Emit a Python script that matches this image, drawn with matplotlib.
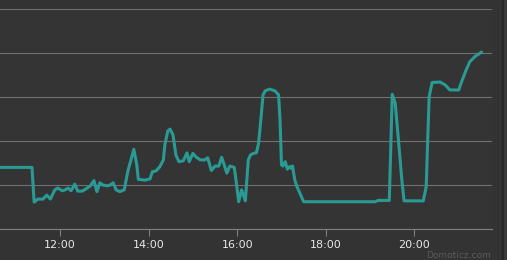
import numpy as np
import matplotlib
matplotlib.use("Agg")
import matplotlib.pyplot as plt
from matplotlib.patches import Rectangle

# readings (time of day, value)
times = ["10:35", "11:22", "11:25", "11:30", "11:37", "11:42", "11:47", "11:53",
         "11:57", "12:03", "12:07", "12:11", "12:15", "12:20", "12:24", "12:30",
         "12:35", "12:41", "12:46", "12:50", "12:54", "12:58", "13:04", "13:08",
         "13:12", "13:16", "13:21", "13:27", "13:32", "13:40", "13:44", "13:46",
         "13:55", "14:02", "14:05", "14:10", "14:15", "14:20", "14:22", "14:26",
         "14:29", "14:33", "14:37", "14:41", "14:47", "14:52", "14:55", "15:00",
         "15:04", "15:10", "15:16", "15:20", "15:25", "15:30", "15:35", "15:39",
         "15:46", "15:50", "15:56", "15:58", "16:02", "16:06", "16:11", "16:15",
         "16:18", "16:22", "16:26", "16:29", "16:32", "16:35", "16:38", "16:44",
         "16:51", "16:56", "16:58", "17:00", "17:02", "17:05", "17:08", "17:11",
         "17:13", "17:15", "17:18", "17:21", "17:25", "17:30", "19:07", "19:11",
         "19:26", "19:30", "19:34", "19:38", "19:43", "19:46", "20:12", "20:16",
         "20:18", "20:20", "20:24", "20:35", "20:42", "20:48", "21:00", "21:04",
         "21:10", "21:15", "21:22", "21:31"]
values = [1.40, 1.40, 0.61, 0.68, 0.68, 0.77, 0.68, 0.89,
          0.93, 0.87, 0.89, 0.93, 0.87, 1.02, 0.86, 0.86,
          0.91, 0.98, 1.10, 0.85, 1.05, 1.00, 0.98, 1.00,
          1.05, 0.89, 0.85, 0.89, 1.32, 1.81, 1.46, 1.13,
          1.11, 1.14, 1.30, 1.32, 1.41, 1.57, 1.91, 2.23,
          2.27, 2.14, 1.68, 1.53, 1.55, 1.73, 1.53, 1.72,
          1.64, 1.57, 1.57, 1.62, 1.33, 1.43, 1.43, 1.63,
          1.27, 1.43, 1.40, 1.16, 0.62, 0.89, 0.64, 1.57,
          1.68, 1.72, 1.73, 1.95, 2.48, 3.05, 3.14, 3.18,
          3.14, 3.05, 2.48, 1.46, 1.43, 1.53, 1.36, 1.42,
          1.38, 1.43, 1.11, 0.96, 0.81, 0.62, 0.62, 0.65,
          0.65, 3.06, 2.86, 2.10, 1.11, 0.64, 0.64, 0.96,
          2.02, 3.01, 3.33, 3.34, 3.27, 3.16, 3.16, 3.35,
          3.61, 3.80, 3.92, 4.02]
tick_hours = [12, 14, 16, 18, 20]
tick_labels = ["12:00", "14:00", "16:00", "18:00", "20:00"]


def to_hours(s):
    h, m = s.split(":")
    return int(h) + int(m) / 60.0


hours = np.array([to_hours(t) for t in times])

W, H = 507, 260
fig = plt.figure(figsize=(W / 100, H / 100), dpi=100)
fig.patch.set_facecolor("#333333")

# right side panel edge
fig.patches.append(Rectangle((502 / W, 0), 2 / W, 1, transform=fig.transFigure,
                             color="#262626", zorder=0))
fig.patches.append(Rectangle((504 / W, 0), 3 / W, 1, transform=fig.transFigure,
                             color="#3a3a3a", zorder=0))

ax = fig.add_axes([0, (H - 229) / H, 492 / W, 220 / H])
ax.set_facecolor("#343434")

for v in range(1, 6):
    ax.axhline(v, color="#707070", lw=0.8, zorder=1)

ax.plot(hours, values, color="#2a9a94", lw=2.2, solid_joinstyle="round",
        solid_capstyle="round", zorder=3, clip_on=True)

x0 = 12 - 60 / 44.3
x1 = 12 + (492 - 60) / 44.3
ax.set_xlim(x0, x1)
ax.set_ylim(0, 5)

for s in ["top", "right", "left"]:
    ax.spines[s].set_visible(False)
ax.spines["bottom"].set_color("#808080")
ax.spines["bottom"].set_linewidth(0.8)

ax.set_yticks([])
ax.set_xticks(tick_hours)
ax.set_xticklabels(tick_labels)
ax.tick_params(axis="x", colors="#808080", length=5, width=0.8, pad=3,
               labelcolor="#e8e8e8", labelsize=8)

fig.text(491 / W, 5 / H, "Domoticz.com", ha="right", va="center",
         color="#5a5a5a", fontsize=6.5)

fig.savefig("out.png", dpi=100, facecolor=fig.get_facecolor())
